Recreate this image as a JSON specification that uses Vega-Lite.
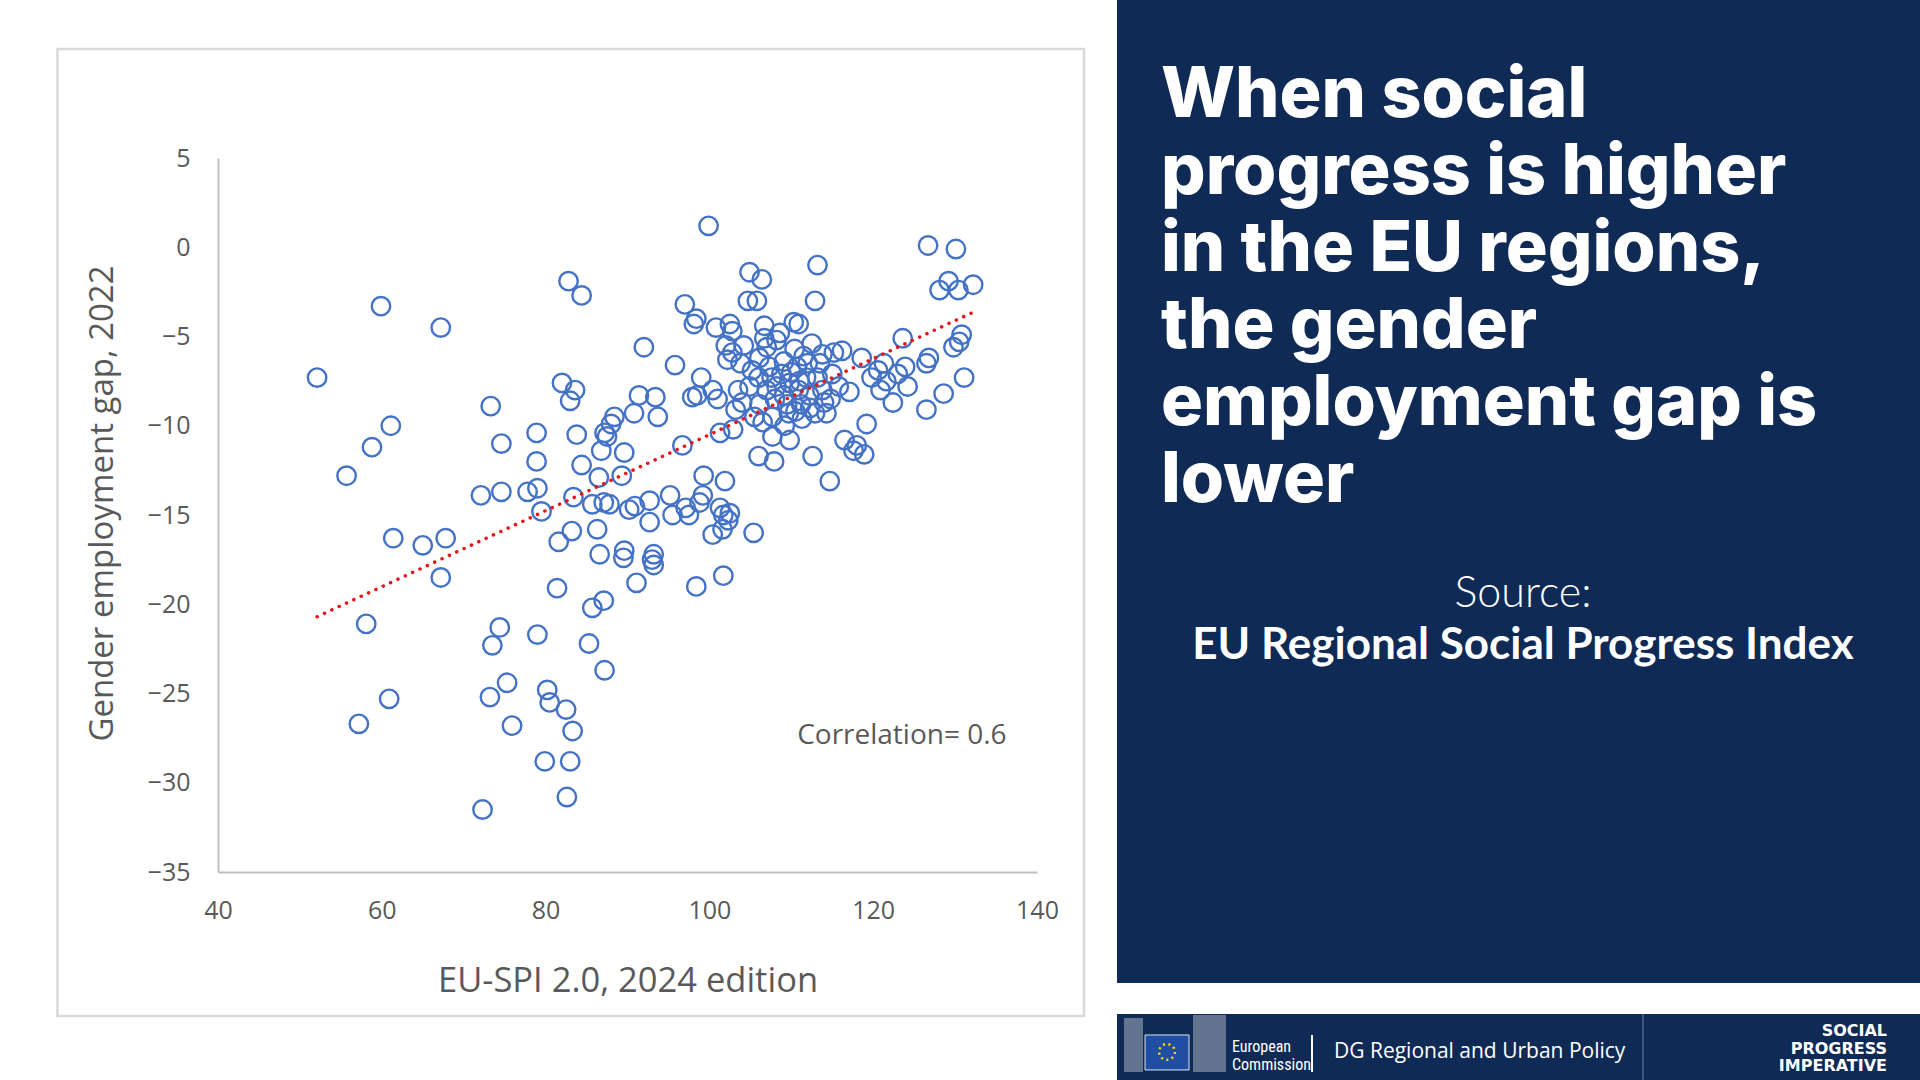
{
  "$schema": "https://vega.github.io/schema/vega-lite/v6.json",
  "width": 819,
  "height": 714,
  "autosize": {"type": "none"},
  "padding": {"left": 218, "top": 158, "right": 883, "bottom": 208},
  "background": "white",
  "config": {
    "view": {"stroke": null},
    "font": "Open Sans"
  },
  "layer": [
    {
      "data": {"values": [{"part": "panel border"}]},
      "mark": {"type": "rect", "fill": null, "stroke": "#d9d9d9", "strokeWidth": 2.5, "clip": false},
      "encoding": {
        "x": {"datum": 20.4, "type": "quantitative"},
        "x2": {"datum": 145.74},
        "y": {"datum": 11.11, "type": "quantitative"},
        "y2": {"datum": -43.07}
      }
    },
    {
      "data": {"values": [{"part": "navy panel"}]},
      "mark": {"type": "rect", "fill": "#102a56", "clip": false},
      "encoding": {
        "x": {"datum": 149.77, "type": "quantitative"},
        "x2": {"datum": 248.4},
        "y": {"datum": 14.13, "type": "quantitative"},
        "y2": {"datum": -41.22}
      }
    },
    {
      "data": {"values": [{"part": "footer"}]},
      "mark": {"type": "rect", "fill": "#102a56", "clip": false},
      "encoding": {
        "x": {"datum": 149.77, "type": "quantitative"},
        "x2": {"datum": 248.4},
        "y": {"datum": -42.96, "type": "quantitative"},
        "y2": {"datum": -46.93}
      }
    },
    {
      "data": {"values": [{"part": "building left"}]},
      "mark": {"type": "rect", "fill": "white", "opacity": 0.35, "clip": false},
      "encoding": {
        "x": {"datum": 150.62, "type": "quantitative"},
        "x2": {"datum": 152.94},
        "y": {"datum": -43.18, "type": "quantitative"},
        "y2": {"datum": -46.2}
      }
    },
    {
      "data": {"values": [{"part": "building right"}]},
      "mark": {"type": "rect", "fill": "white", "opacity": 0.35, "clip": false},
      "encoding": {
        "x": {"datum": 159.05, "type": "quantitative"},
        "x2": {"datum": 163.08},
        "y": {"datum": -43.01, "type": "quantitative"},
        "y2": {"datum": -46.2}
      }
    },
    {
      "data": {"values": [{"part": "flag"}]},
      "mark": {"type": "rect", "fill": "#1f4ea3", "stroke": "#dfe6f2", "strokeWidth": 1, "clip": false},
      "encoding": {
        "x": {"datum": 153.19, "type": "quantitative"},
        "x2": {"datum": 158.56},
        "y": {"datum": -44.13, "type": "quantitative"},
        "y2": {"datum": -46.09}
      }
    },
    {
      "data": {"values": [{"part": "stars"}]},
      "mark": {"type": "point", "shape": "circle", "filled": false, "stroke": "#ffdd00", "strokeWidth": 2.5, "strokeDash": [2, 3.5], "size": 250, "opacity": 1, "clip": false},
      "encoding": {
        "x": {"datum": 155.87, "type": "quantitative"},
        "y": {"datum": -45.08, "type": "quantitative"}
      }
    },
    {
      "data": {"values": [{"label": "European\nCommission"}]},
      "mark": {"type": "text", "align": "left", "baseline": "alphabetic", "lineBreak": "\n", "lineHeight": 18, "font": "Liberation Sans Narrow, Roboto Condensed, Roboto", "fontSize": 16, "color": "white", "clip": false},
      "encoding": {
        "x": {"datum": 163.81, "type": "quantitative"},
        "y": {"datum": -45.1, "type": "quantitative"},
        "text": {"field": "label"}
      }
    },
    {
      "data": {"values": [{"part": "bar"}]},
      "mark": {"type": "rule", "color": "white", "strokeWidth": 2, "clip": false},
      "encoding": {
        "x": {"datum": 173.58, "type": "quantitative"},
        "y": {"datum": -44.13, "type": "quantitative"},
        "y2": {"datum": -46.2}
      }
    },
    {
      "data": {"values": [{"label": "DG Regional and Urban Policy"}]},
      "mark": {"type": "text", "align": "left", "baseline": "alphabetic", "font": "Open Sans", "fontSize": 21, "color": "white", "clip": false},
      "encoding": {
        "x": {"datum": 176.26, "type": "quantitative"},
        "y": {"datum": -45.4, "type": "quantitative"},
        "text": {"field": "label"}
      }
    },
    {
      "data": {"values": [{"part": "separator"}]},
      "mark": {"type": "rule", "color": "#4d6794", "strokeWidth": 1.5, "clip": false},
      "encoding": {
        "x": {"datum": 213.99, "type": "quantitative"},
        "y": {"datum": -42.96, "type": "quantitative"},
        "y2": {"datum": -46.93}
      }
    },
    {
      "data": {"values": [{"label": "SOCIAL\nPROGRESS\nIMPERATIVE"}]},
      "mark": {"type": "text", "align": "right", "baseline": "alphabetic", "lineBreak": "\n", "lineHeight": 17.5, "font": "DejaVu Sans", "fontWeight": "bold", "fontSize": 16, "color": "white", "clip": false},
      "encoding": {
        "x": {"datum": 243.79, "type": "quantitative"},
        "y": {"datum": -44.19, "type": "quantitative"},
        "text": {"field": "label"}
      }
    },
    {
      "data": {"values": [{"label": "When social\nprogress is higher\nin the EU regions,\nthe gender\nemployment gap is\nlower"}]},
      "mark": {"type": "text", "align": "left", "baseline": "alphabetic", "lineBreak": "\n", "lineHeight": 77, "font": "Inter", "fontWeight": 800, "fontSize": 70, "color": "white", "clip": false},
      "encoding": {
        "x": {"datum": 155.14, "type": "quantitative"},
        "y": {"datum": 7.3, "type": "quantitative"},
        "text": {"field": "label"}
      }
    },
    {
      "data": {"values": [{"label": "Source:"}]},
      "mark": {"type": "text", "align": "center", "baseline": "alphabetic", "font": "Lato", "fontWeight": 300, "fontSize": 43, "color": "white", "clip": false},
      "encoding": {
        "x": {"datum": 199.34, "type": "quantitative"},
        "y": {"datum": -20.15, "type": "quantitative"},
        "text": {"field": "label"}
      }
    },
    {
      "data": {"values": [{"label": "EU Regional Social Progress Index"}]},
      "mark": {"type": "text", "align": "center", "baseline": "alphabetic", "font": "Lato", "fontWeight": "bold", "fontSize": 44, "color": "white", "clip": false},
      "encoding": {
        "x": {"datum": 199.34, "type": "quantitative"},
        "y": {"datum": -23.05, "type": "quantitative"},
        "text": {"field": "label"}
      }
    },
    {
      "data": {"values": [{"label": "Correlation= 0.6"}]},
      "mark": {"type": "text", "align": "center", "baseline": "alphabetic", "font": "Open Sans", "fontSize": 28, "color": "#595959", "clip": false},
      "encoding": {
        "x": {"datum": 123.5, "type": "quantitative"},
        "y": {"datum": -27.83, "type": "quantitative"},
        "text": {"field": "label"}
      }
    },
    {
      "data": {
        "values": [
          {"spi": 52.1, "gap": -7.3}, {"spi": 59.9, "gap": -3.3}, {"spi": 55.7, "gap": -12.8}, {"spi": 58.8, "gap": -11.2},
          {"spi": 61.1, "gap": -10.0}, {"spi": 67.2, "gap": -4.5}, {"spi": 61.4, "gap": -16.3}, {"spi": 65.0, "gap": -16.7},
          {"spi": 67.8, "gap": -16.3}, {"spi": 67.2, "gap": -18.5}, {"spi": 58.1, "gap": -21.1}, {"spi": 60.9, "gap": -25.3},
          {"spi": 57.2, "gap": -26.7}, {"spi": 73.3, "gap": -8.9}, {"spi": 74.6, "gap": -11.0}, {"spi": 72.1, "gap": -13.9},
          {"spi": 74.6, "gap": -13.7}, {"spi": 77.8, "gap": -13.7}, {"spi": 78.9, "gap": -10.4}, {"spi": 78.9, "gap": -12.0},
          {"spi": 79.0, "gap": -13.5}, {"spi": 79.5, "gap": -14.8}, {"spi": 74.4, "gap": -21.3}, {"spi": 73.5, "gap": -22.3},
          {"spi": 75.3, "gap": -24.4}, {"spi": 73.2, "gap": -25.2}, {"spi": 75.9, "gap": -26.8}, {"spi": 79.0, "gap": -21.7},
          {"spi": 80.2, "gap": -24.8}, {"spi": 80.5, "gap": -25.5}, {"spi": 82.5, "gap": -25.9}, {"spi": 83.3, "gap": -27.1},
          {"spi": 79.9, "gap": -28.8}, {"spi": 83.0, "gap": -28.8}, {"spi": 82.6, "gap": -30.8}, {"spi": 72.3, "gap": -31.5},
          {"spi": 81.4, "gap": -19.1}, {"spi": 81.6, "gap": -16.5}, {"spi": 83.2, "gap": -15.9}, {"spi": 83.4, "gap": -14.0},
          {"spi": 82.0, "gap": -7.6}, {"spi": 83.0, "gap": -8.6}, {"spi": 83.6, "gap": -8.0}, {"spi": 82.8, "gap": -1.9},
          {"spi": 84.4, "gap": -2.7}, {"spi": 83.8, "gap": -10.5}, {"spi": 84.4, "gap": -12.2}, {"spi": 85.3, "gap": -22.2},
          {"spi": 85.7, "gap": -20.2}, {"spi": 87.1, "gap": -19.8}, {"spi": 87.2, "gap": -23.7}, {"spi": 85.7, "gap": -14.4},
          {"spi": 86.5, "gap": -12.9}, {"spi": 86.3, "gap": -15.8}, {"spi": 86.6, "gap": -17.2}, {"spi": 87.1, "gap": -14.3},
          {"spi": 87.8, "gap": -14.4}, {"spi": 87.5, "gap": -10.6}, {"spi": 86.8, "gap": -11.4}, {"spi": 87.2, "gap": -10.4},
          {"spi": 88.0, "gap": -9.9}, {"spi": 88.4, "gap": -9.5}, {"spi": 89.6, "gap": -11.5}, {"spi": 89.3, "gap": -12.8},
          {"spi": 89.5, "gap": -17.4}, {"spi": 89.6, "gap": -17.0}, {"spi": 90.2, "gap": -14.7}, {"spi": 90.9, "gap": -14.5},
          {"spi": 90.8, "gap": -9.3}, {"spi": 91.4, "gap": -8.3}, {"spi": 92.0, "gap": -5.6}, {"spi": 91.1, "gap": -18.8},
          {"spi": 92.7, "gap": -14.2}, {"spi": 92.7, "gap": -15.4}, {"spi": 93.0, "gap": -17.5}, {"spi": 93.2, "gap": -17.2},
          {"spi": 93.2, "gap": -17.8}, {"spi": 93.4, "gap": -8.4}, {"spi": 93.7, "gap": -9.5}, {"spi": 95.2, "gap": -13.9},
          {"spi": 95.5, "gap": -15.0}, {"spi": 95.8, "gap": -6.6}, {"spi": 97.0, "gap": -3.2}, {"spi": 96.7, "gap": -11.1},
          {"spi": 97.1, "gap": -14.6}, {"spi": 97.5, "gap": -15.0}, {"spi": 97.9, "gap": -8.4}, {"spi": 98.4, "gap": -4.0},
          {"spi": 98.1, "gap": -4.3}, {"spi": 98.4, "gap": -19.0}, {"spi": 98.8, "gap": -14.3}, {"spi": 99.2, "gap": -13.9},
          {"spi": 99.3, "gap": -12.8}, {"spi": 99.0, "gap": -7.3}, {"spi": 98.5, "gap": -8.3}, {"spi": 99.9, "gap": 1.2},
          {"spi": 100.4, "gap": -8.0}, {"spi": 100.8, "gap": -4.5}, {"spi": 100.4, "gap": -16.1}, {"spi": 101.0, "gap": -8.5},
          {"spi": 101.3, "gap": -14.6}, {"spi": 101.7, "gap": -15.0}, {"spi": 101.6, "gap": -15.8}, {"spi": 101.7, "gap": -18.4},
          {"spi": 101.3, "gap": -10.4}, {"spi": 101.9, "gap": -13.1}, {"spi": 102.3, "gap": -15.3}, {"spi": 102.5, "gap": -14.9},
          {"spi": 102.5, "gap": -4.3}, {"spi": 102.0, "gap": -5.5}, {"spi": 102.8, "gap": -4.7}, {"spi": 102.2, "gap": -6.3},
          {"spi": 102.8, "gap": -5.9}, {"spi": 102.9, "gap": -10.2}, {"spi": 103.2, "gap": -9.1}, {"spi": 103.5, "gap": -8.0},
          {"spi": 103.8, "gap": -6.5}, {"spi": 104.2, "gap": -5.5}, {"spi": 104.7, "gap": -3.0}, {"spi": 104.9, "gap": -1.4},
          {"spi": 104.9, "gap": -7.8}, {"spi": 105.2, "gap": -6.9}, {"spi": 105.4, "gap": -16.0}, {"spi": 105.8, "gap": -3.0},
          {"spi": 106.1, "gap": -6.2}, {"spi": 106.0, "gap": -7.3}, {"spi": 106.1, "gap": -8.8}, {"spi": 106.0, "gap": -11.7},
          {"spi": 106.4, "gap": -1.8}, {"spi": 106.7, "gap": -4.4}, {"spi": 106.7, "gap": -5.1}, {"spi": 107.0, "gap": -5.6},
          {"spi": 107.3, "gap": -6.7}, {"spi": 107.6, "gap": -7.3}, {"spi": 107.7, "gap": -9.5}, {"spi": 107.9, "gap": -12.0},
          {"spi": 107.7, "gap": -10.6}, {"spi": 108.0, "gap": -8.5}, {"spi": 108.2, "gap": -7.8}, {"spi": 108.2, "gap": -5.2},
          {"spi": 108.6, "gap": -4.8}, {"spi": 109.1, "gap": -6.4}, {"spi": 109.1, "gap": -8.3}, {"spi": 109.2, "gap": -10.0},
          {"spi": 109.8, "gap": -10.8}, {"spi": 109.7, "gap": -9.3}, {"spi": 109.8, "gap": -7.6}, {"spi": 110.3, "gap": -4.2},
          {"spi": 110.9, "gap": -4.3}, {"spi": 110.4, "gap": -5.7}, {"spi": 110.7, "gap": -6.7}, {"spi": 110.9, "gap": -8.0},
          {"spi": 111.2, "gap": -8.8}, {"spi": 111.3, "gap": -9.6}, {"spi": 111.5, "gap": -6.1}, {"spi": 111.8, "gap": -7.3},
          {"spi": 112.0, "gap": -6.5}, {"spi": 112.2, "gap": -8.3}, {"spi": 112.5, "gap": -5.4}, {"spi": 112.6, "gap": -11.7},
          {"spi": 112.9, "gap": -3.0}, {"spi": 113.2, "gap": -1.0}, {"spi": 112.9, "gap": -9.3}, {"spi": 113.2, "gap": -7.3},
          {"spi": 113.5, "gap": -6.5}, {"spi": 113.8, "gap": -8.0}, {"spi": 114.0, "gap": -8.7}, {"spi": 114.3, "gap": -9.3},
          {"spi": 114.7, "gap": -13.1}, {"spi": 115.0, "gap": -7.1}, {"spi": 115.2, "gap": -5.9}, {"spi": 115.8, "gap": -7.8},
          {"spi": 116.2, "gap": -5.8}, {"spi": 116.5, "gap": -10.8}, {"spi": 117.1, "gap": -8.1}, {"spi": 117.6, "gap": -11.4},
          {"spi": 118.0, "gap": -11.1}, {"spi": 118.6, "gap": -6.2}, {"spi": 118.9, "gap": -11.6}, {"spi": 119.2, "gap": -9.9},
          {"spi": 119.8, "gap": -7.3}, {"spi": 120.6, "gap": -6.9}, {"spi": 120.9, "gap": -8.0}, {"spi": 121.3, "gap": -6.5},
          {"spi": 121.6, "gap": -7.5}, {"spi": 122.4, "gap": -8.7}, {"spi": 123.0, "gap": -7.1}, {"spi": 123.6, "gap": -5.1},
          {"spi": 124.2, "gap": -7.8}, {"spi": 123.9, "gap": -6.7}, {"spi": 126.5, "gap": -6.5}, {"spi": 126.5, "gap": -9.1},
          {"spi": 126.7, "gap": 0.1}, {"spi": 126.8, "gap": -6.2}, {"spi": 128.1, "gap": -2.4}, {"spi": 128.6, "gap": -8.2},
          {"spi": 129.2, "gap": -1.9}, {"spi": 129.8, "gap": -5.6}, {"spi": 130.1, "gap": -0.1}, {"spi": 130.4, "gap": -2.4},
          {"spi": 130.5, "gap": -5.3}, {"spi": 130.8, "gap": -4.9}, {"spi": 131.1, "gap": -7.3}, {"spi": 132.2, "gap": -2.1},
          {"spi": 106.5, "gap": -9.8}, {"spi": 108.8, "gap": -7.1}, {"spi": 110.0, "gap": -7.0}, {"spi": 111.0, "gap": -7.5},
          {"spi": 112.3, "gap": -9.0}, {"spi": 109.5, "gap": -8.8}, {"spi": 107.0, "gap": -8.0}, {"spi": 105.5, "gap": -9.5},
          {"spi": 104.0, "gap": -8.7}, {"spi": 113.8, "gap": -6.0}, {"spi": 114.8, "gap": -8.5}, {"spi": 110.5, "gap": -9.2}
        ]
      },
      "mark": {"type": "point", "shape": "circle", "filled": false, "stroke": "#4472c4", "strokeWidth": 2.4, "size": 340, "opacity": 1},
      "encoding": {
        "x": {
          "field": "spi",
          "type": "quantitative",
          "scale": {"domain": [40, 140], "nice": false, "zero": false},
          "axis": {
            "title": "EU-SPI 2.0, 2024 edition",
            "values": [40, 60, 80, 100, 120, 140],
            "grid": false,
            "ticks": false,
            "labelFlush": false,
            "domainColor": "#bfbfbf",
            "domainWidth": 2,
            "labelFont": "Open Sans",
            "labelFontSize": 25,
            "labelColor": "#595959",
            "labelPadding": 26,
            "titleFont": "Open Sans",
            "titleFontSize": 34.5,
            "titleFontWeight": "normal",
            "titleColor": "#595959",
            "titlePadding": 41
          }
        },
        "y": {
          "field": "gap",
          "type": "quantitative",
          "scale": {"domain": [-35, 5], "nice": false, "zero": false},
          "axis": {
            "title": "Gender employment gap, 2022",
            "values": [5, 0, -5, -10, -15, -20, -25, -30, -35],
            "grid": false,
            "ticks": false,
            "labelFlush": false,
            "domainColor": "#bfbfbf",
            "domainWidth": 2,
            "labelFont": "Open Sans",
            "labelFontSize": 25,
            "labelColor": "#595959",
            "labelPadding": 28,
            "titleFont": "Open Sans",
            "titleFontSize": 33,
            "titleFontWeight": "normal",
            "titleColor": "#595959",
            "titlePadding": 28,
            "titleY": 345
          }
        }
      }
    },
    {
      "data": {"values": [{"spi": 52.1, "fit": -20.7}, {"spi": 132.4, "fit": -3.6}]},
      "mark": {"type": "line", "color": "#e8141a", "strokeWidth": 3.5, "strokeDash": [0.1, 8], "strokeCap": "round"},
      "encoding": {
        "x": {"field": "spi", "type": "quantitative"},
        "y": {"field": "fit", "type": "quantitative"}
      }
    }
  ]
}
